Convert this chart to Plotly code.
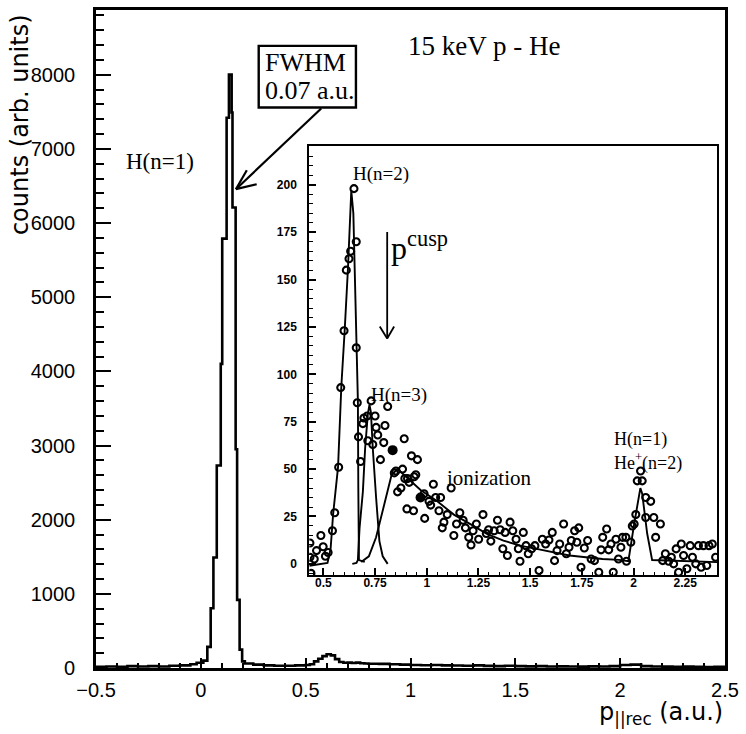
import plotly.graph_objects as go

# ---------------- data: main histogram (bin left edges, counts) ----------------
main_edges = [-0.50, -0.45, -0.40, -0.35, -0.30, -0.25, -0.20, -0.15, -0.10, -0.05,
              -0.02, 0.012, 0.031, 0.047, 0.060, 0.076, 0.095, 0.102, 0.123, 0.134,
              0.147, 0.151, 0.166, 0.173, 0.185, 0.197, 0.21, 0.25, 0.30, 0.35,
              0.40, 0.45, 0.50, 0.52, 0.54, 0.56, 0.58, 0.60, 0.62, 0.64,
              0.66, 0.68, 0.70, 0.72, 0.74, 0.76, 0.78, 0.80, 0.85, 0.90,
              0.95, 1.00, 1.05, 1.10, 1.15, 1.20, 1.25, 1.30, 1.35, 1.40,
              1.45, 1.50, 1.55, 1.60, 1.65, 1.70, 1.75, 1.80, 1.85, 1.90,
              1.95, 2.00, 2.05, 2.10, 2.15, 2.20, 2.25, 2.30, 2.35, 2.40, 2.45]
main_counts = [15, 20, 15, 25, 20, 25, 20, 30, 35, 50,
               70, 100, 285, 805, 1490, 2730, 4100, 5790, 7420, 8000,
               7490, 6210, 2950, 919, 248, 90, 60, 45, 35, 30,
               30, 35, 40, 50, 90, 125, 160, 185, 170, 120,
               80, 70, 72, 68, 72, 65, 60, 58, 55, 50,
               45, 40, 38, 40, 35, 33, 30, 35, 28, 25,
               30, 25, 22, 25, 20, 22, 20, 18, 22, 20,
               25, 40, 45, 25, 20, 18, 15, 18, 15, 12, 15]
main_xmax = 2.5

main_xticks = [-0.5, 0, 0.5, 1, 1.5, 2, 2.5]
main_xticktext = ["\u22120.5", "0", "0.5", "1", "1.5", "2", "2.5"]
main_yticks = [0, 1000, 2000, 3000, 4000, 5000, 6000, 7000, 8000]

# ---------------- data: inset ----------------
inset_x = [0.435, 0.435, 0.44, 0.467, 0.456, 0.488, 0.499, 0.51, 0.523, 0.544,
           0.555, 0.574, 0.584, 0.600, 0.611, 0.624, 0.632, 0.648, 0.659, 0.659,
           0.664, 0.670, 0.680, 0.691, 0.696, 0.712, 0.715, 0.731, 0.739, 0.750,
           0.755, 0.763, 0.776, 0.792, 0.798, 0.811, 0.843, 0.851, 0.859, 0.875,
           0.883, 0.891, 0.894, 0.904, 0.907, 0.915, 0.926, 0.936, 0.939, 0.947,
           0.955, 0.987, 0.99, 1.011, 1.019, 1.032, 1.043, 1.059, 1.067, 1.075,
           1.083, 1.099, 1.118, 1.131, 1.144, 1.16, 1.176, 1.187, 1.203, 1.214,
           1.224, 1.24, 1.251, 1.272, 1.288, 1.299, 1.31, 1.326, 1.342, 1.355,
           1.368, 1.379, 1.39, 1.403, 1.416, 1.432, 1.443, 1.451, 1.467, 1.48,
           1.491, 1.507, 1.523, 1.543, 1.559, 1.575, 1.591, 1.607, 1.618, 1.63,
           1.643, 1.662, 1.675, 1.688, 1.699, 1.715, 1.726, 1.735, 1.746, 1.762,
           1.778, 1.795, 1.811, 1.832, 1.843, 1.851, 1.87, 1.88, 1.891, 1.902,
           1.915, 1.927, 1.939, 1.947, 1.963, 1.966, 1.987, 1.994, 2.003, 2.011,
           2.018, 2.034, 2.042, 2.059, 2.059, 2.083, 2.098, 2.107, 2.13, 2.141,
           2.154, 2.17, 2.183, 2.194, 2.206, 2.218, 2.231, 2.242, 2.258, 2.274,
           2.285, 2.301, 2.314, 2.327, 2.338, 2.354, 2.365, 2.381, 2.397]
inset_y = [11, 3.5, -5, 7, 2.6, 15, 9, 4, 6, 17.5,
           27, 51, 93, 123, 155, 161, 165, 198, 170, 114,
           85, 67, 54, 74, 77, 78, 65, 86, 63, 78,
           72, 68, 55, 64, 73, 83, 48, 49, 38, 40,
           50, 66, 45, 29, 45, 43, 57, 28, 46, 47,
           55, 37, 24, 33, 31, 42, 35, 28, 35, 19,
           22, 26, 40, 15, 21, 27, 23, 19, 14, 10,
           17.5, 21, 13, 26, 16, 18, 12, 17.5, 23, 18,
           8, 16.6, 4.4, 22, 17.5, 13, 8, 1.4, 16.6, 9.6,
           5.3, 8, 9.6, -3.5, 13, 10.5, 12.6, 16.6, 1.7, 7,
           10.5, 21, 5.3, 8.8, 12.3, 17.5, 11.4, 19, -1.8, 8.4,
           12.3, 2.6, 1.7, -4.4, 7.4, 14, 18.4, 7.4, 10.5, -4.4,
           13, 2.6, 8.8, 14, 14, 1.4, 11.4, 20, 21, 26,
           43.8, 49, 43.8, 35, 24.5, 33, 24.5, 14, 21, 1.7,
           5.3, 1.4, 3.5, 0, 7.9, -4.4, 10.5, 4.4, -2.6, 9.6,
           3.5, 0, 9.6, -1.8, 9.6, -0.9, 9.6, 10.5, 3.5]
inset_filled_x = [0.835, 0.970]
inset_filled_y = [60, 35]

fit_n2_x = [0.432, 0.52, 0.535, 0.547, 0.571, 0.587, 0.603, 0.619, 0.635, 0.645,
            0.655, 0.662, 0.667, 0.669, 0.672, 0.70]
fit_n2_y = [-1, 0.5, 8, 26, 51, 94, 123, 156, 197, 185,
            140, 112, 86, 40, 2, 1]
fit_n3_x = [0.64, 0.66, 0.667, 0.675, 0.691, 0.702, 0.715, 0.723, 0.73, 0.739,
            0.755, 0.771, 0.787, 0.811]
fit_n3_y = [0, 0.5, 2, 19, 38, 61, 79, 84, 80, 61,
            35, 12, 4, 0]
fit_ion_x = [0.683, 0.72, 0.755, 0.79, 0.811, 0.83, 0.859, 0.90, 0.97, 1.051,
             1.131, 1.211, 1.291, 1.371, 1.451, 1.531, 1.611, 1.69, 1.77, 1.85,
             1.93, 1.975, 2.003, 2.033, 2.042, 2.066, 2.09, 2.25, 2.404]
fit_ion_y = [1, 4, 14, 30, 40, 47, 50, 46, 39, 33,
             26, 21, 15.8, 12.3, 9.6, 7.9, 6.1, 4.4, 3.5, 2.6,
             2.1, 1.4, 21, 40, 37, 16, 2, 1.4, 0.9]

inset_xticks = [0.5, 0.75, 1, 1.25, 1.5, 1.75, 2, 2.25]
inset_xticktext = ["0.5", "0.75", "1", "1.25", "1.5", "1.75", "2", "2.25"]
inset_yticks = [0, 25, 50, 75, 100, 125, 150, 175, 200]

# ---------------- layout geometry (pixels) ----------------
FW, FH = 746, 734
L, R, T, B = 96, 730, 7, 668
PW, PH = R - L, B - T


def px2x(px):
    return (px - L) / PW


def py2y(py):
    return (B - py) / PH


serif = "Liberation Serif"
sans = "Liberation Sans"

fig = go.Figure()

hx = main_edges + [main_xmax]
hy = main_counts + [main_counts[-1]]
fig.add_trace(go.Scatter(x=hx, y=hy, mode="lines",
                         line=dict(shape="hv", color="black", width=2.6),
                         xaxis="x", yaxis="y", hoverinfo="skip", showlegend=False))

for fx, fy in [(fit_n2_x, fit_n2_y), (fit_n3_x, fit_n3_y), (fit_ion_x, fit_ion_y)]:
    fig.add_trace(go.Scatter(x=fx, y=fy, mode="lines",
                             line=dict(color="black", width=1.9),
                             xaxis="x2", yaxis="y2", hoverinfo="skip", showlegend=False,
                             cliponaxis=True))

fig.add_trace(go.Scatter(x=inset_x, y=inset_y, mode="markers",
                         marker=dict(symbol="circle-open", size=7, color="black",
                                     line=dict(width=2.1, color="black")),
                         xaxis="x2", yaxis="y2", hoverinfo="skip", showlegend=False,
                         cliponaxis=True))
fig.add_trace(go.Scatter(x=inset_filled_x, y=inset_filled_y, mode="markers",
                         marker=dict(symbol="circle", size=10, color="black"),
                         xaxis="x2", yaxis="y2", hoverinfo="skip", showlegend=False))

axis_common = dict(showgrid=False, zeroline=False, showline=True, linecolor="black",
                   mirror=True, ticks="inside", tickcolor="black")

fig.update_layout(
    width=FW, height=FH,
    margin=dict(l=L, r=FW - R, t=T, b=FH - B, pad=0),
    paper_bgcolor="white", plot_bgcolor="white",
    showlegend=False,
    xaxis=dict(domain=[0, 1], range=[-0.5, 2.5], tickmode="array",
               tickvals=main_xticks, ticktext=main_xticktext,
               ticklen=10, tickwidth=2, linewidth=2.6,
               minor=dict(dtick=0.1, tick0=0, ticks="inside", ticklen=5, tickwidth=1.5,
                          tickcolor="black"),
               tickfont=dict(family=sans, size=20, color="black"),
               ticklabelstandoff=2, **axis_common),
    yaxis=dict(domain=[0, 1], range=[0, 8872], tickmode="array", tickvals=main_yticks,
               ticklen=15, tickwidth=2, linewidth=2.6,
               minor=dict(dtick=200, tick0=0, ticks="inside", ticklen=8, tickwidth=1.5,
                          tickcolor="black"),
               tickfont=dict(family=sans, size=20, color="black"),
               ticklabelstandoff=14, **axis_common),
    xaxis2=dict(domain=[px2x(311), px2x(722)], anchor="y2", range=[0.432, 2.404],
                tickmode="array", tickvals=inset_xticks, ticktext=inset_xticktext,
                ticklen=7, tickwidth=1.6, linewidth=2,
                minor=dict(dtick=0.05, tick0=0.5, ticks="inside", ticklen=3.5, tickwidth=1.2,
                           tickcolor="black"),
                tickfont=dict(family=sans, size=12, color="black", weight="bold"),
                ticklabelstandoff=-5, **axis_common),
    yaxis2=dict(domain=[py2y(575), py2y(144)], anchor="x2", range=[-6.1, 220.3],
                tickmode="array", tickvals=inset_yticks,
                ticklen=7, tickwidth=1.6, linewidth=2,
                minor=dict(dtick=5, tick0=0, ticks="inside", ticklen=3.5, tickwidth=1.2,
                           tickcolor="black"),
                tickfont=dict(family=sans, size=12, color="black", weight="bold"),
                ticklabelstandoff=8, **axis_common),
)

ann = []


def add_text(text, px, py, size, family=serif, xanchor="center", yanchor="middle", angle=0):
    ann.append(dict(text=text, xref="paper", yref="paper", x=px2x(px), y=py2y(py),
                    xanchor=xanchor, yanchor=yanchor, showarrow=False, textangle=angle,
                    font=dict(family=family, size=size, color="black")))


add_text("15 keV p - He", 487, 43, 27)
add_text("H(n=1)", 161, 159, 23)
add_text("FWHM", 264, 60, 26, xanchor="left")
add_text("0.07 a.u.", 264, 88, 26, xanchor="left")
add_text("counts (arb. units)", 20, 122, 24, family="DejaVu Sans", angle=-90)
add_text("p<sub>||rec</sub> (a.u.)", 730, 714, 24, family="DejaVu Sans", xanchor="right")
# inset labels
add_text("H(n=2)", 383, 172, 19)
add_text("H(n=3)", 401, 394, 19)
add_text("ionization", 492, 477, 21)
add_text("H(n=1)", 616, 438, 18, xanchor="left")
add_text("He<sup>+</sup>(n=2)", 616, 461, 18, xanchor="left")
add_text("p<sup>cusp</sup>", 391, 244, 32, xanchor="left")

fig.update_layout(annotations=ann)

shapes = []


def seg(x0, y0, x1, y1, w=2.2):
    shapes.append(dict(type="line", xref="paper", yref="paper",
                       x0=px2x(x0), y0=py2y(y0), x1=px2x(x1), y1=py2y(y1),
                       line=dict(color="black", width=w)))


# FWHM box
shapes.append(dict(type="rect", xref="paper", yref="paper",
                   x0=px2x(260), y0=py2y(105), x1=px2x(358), y1=py2y(43),
                   line=dict(color="black", width=2.4), fillcolor="rgba(0,0,0,0)"))
# FWHM arrow
seg(323, 106, 237, 187)
seg(237, 187, 248, 168)
seg(237, 187, 258, 182)
# p_cusp arrow
seg(389.5, 230, 389.5, 337, 1.8)
seg(389.5, 337, 382, 325, 1.8)
seg(389.5, 337, 396.5, 325, 1.8)

fig.update_layout(shapes=shapes)

fig.write_html("out.html", config={"displayModeBar": False},
               post_script="document.body.style.margin='0';document.body.style.overflow='hidden';")
